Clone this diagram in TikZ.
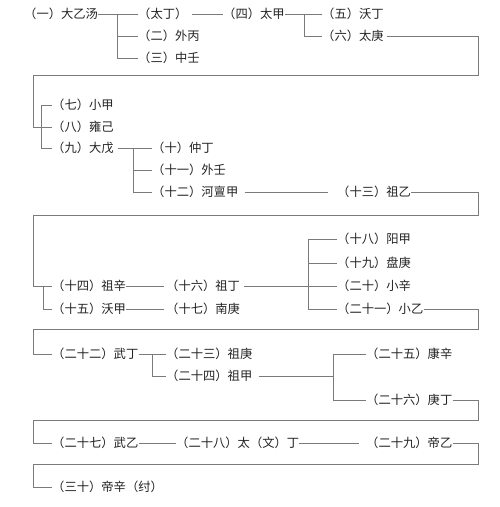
\documentclass[tikz,border=0pt]{standalone}
\usepackage{fontspec}
\newfontfamily\cjk{Noto Sans CJK SC}
\definecolor{linegray}{HTML}{7A7A7A}
\definecolor{textgray}{HTML}{222222}

\begin{document}
\begin{tikzpicture}[x=1pt,y=-1pt]
        \tikzstyle{king}=[anchor=west,inner xsep=0pt,inner ysep=1pt,text=textgray,
        font=\cjk\fontsize{12.3}{14}\selectfont] \tikzstyle{every node}=[king]
        \tikzstyle{link}=[draw=linegray,line width=0.8pt]
        \useasboundingbox (0,0) rectangle (500,507);
        % first generations
        \node (k1) at (24,14) {（一）大乙汤};
        \node (kt) at (138,14) {（太丁）};
        \node (k2) at (138,36) {（二）外丙};
        \node (k3) at (138,58) {（三）中壬};
        \node (k4) at (223,14) {（四）太甲};
        \node (k5) at (322,14) {（五）沃丁};
        \node (k6) at (322,36) {（六）太庚};
        \node (k7) at (52,105) {（七）小甲};
        \node (k8) at (52,127) {（八）雍己};
        \node (k9) at (52,148) {（九）大戊};
        \node (k10) at (152,148) {（十）仲丁};
        \node (k11) at (152,170) {（十一）外壬};
        \node (k12) at (152,192) {（十二）河亶甲};
        \node (k13) at (337,192) {（十三）祖乙};
        \node (k14) at (52,286) {（十四）祖辛};
        \node (k15) at (52,309) {（十五）沃甲};
        \node (k16) at (166,286) {（十六）祖丁};
        \node (k17) at (166,309) {（十七）南庚};
        \node (k18) at (337,239) {（十八）阳甲};
        \node (k19) at (337,263) {（十九）盘庚};
        \node (k20) at (337,286) {（二十）小辛};
        \node (k21) at (337,309) {（二十一）小乙};
        \node (k22) at (52,354) {（二十二）武丁};
        \node (k23) at (166,354) {（二十三）祖庚};
        \node (k24) at (166,376) {（二十四）祖甲};
        \node (k25) at (366,354) {（二十五）康辛};
        \node (k26) at (366,400) {（二十六）庚丁};
        \node (k27) at (52,443) {（二十七）武乙};
        \node (k28) at (176,443) {（二十八）太（文）丁};
        \node (k29) at (366,443) {（二十九）帝乙};
        \node (k30) at (52,487) {（三十）帝辛（纣）};
        % branch points and turns
        \coordinate (b1) at (117,14);
        \coordinate (b2) at (304,14);
        \coordinate (b3) at (41,105);
        \coordinate (b4) at (133,148);
        \coordinate (b5) at (43,286);
        \coordinate (b6) at (308,239);
        \coordinate (b7) at (152,354);
        \coordinate (b8) at (333,354);
        \coordinate (e1) at (478,75);   \coordinate (w1) at (33,75);
        \coordinate (e2) at (478,215);  \coordinate (w2) at (33,215);
        \coordinate (e3) at (478,329);  \coordinate (w3) at (33,329);
        \coordinate (e4) at (478,420);  \coordinate (w4) at (33,420);
        \coordinate (e5) at (478,464);  \coordinate (w5) at (33,464);
        % connectors
        \draw[link] (k1) -- (kt);
        \draw[link] (b1) |- (k3.west) (b1 |- k2) -- (k2.west);
        \draw[link,shorten <=4pt] (kt) -- (k4);
        \draw[link] (k4) -- (k5) (b2) |- (k6.west);
        \draw[link,shorten <=3pt] (k6.east) -| (e1) -- (w1) |- (k8.west);
        \draw[link] (k7.west) -- (b3) |- (k9.west);
        \draw[link,shorten <=4pt] (k9) -- (k10);
        \draw[link] (b4) |- (k12.west) (b4 |- k11) -- (k11.west);
        \draw[link,shorten <=6pt,shorten >=9pt] (k12) -- (k13);
        \draw[link] (k13.east) -| (e2) -- (w2) |- (k14.west);
        \draw[link] (b5) |- (k15.west);
        \draw[link,shorten >=2pt] (k14) -- (k16);
        \draw[link,shorten >=2pt] (k15) -- (k17);
        \draw[link,shorten <=4pt] (k16) -- (k20);
        \draw[link] (k18.west) -- (b6) |- (k21.west) (b6 |- k19) -- (k19.west);
        \draw[link] (k21.east) -| (e3) -- (w3) |- (k22.west);
        \draw[link] (k22) -- (k23) (b7) |- (k24.west);
        \draw[link,shorten <=6pt] (k24.east) -- (k24.east -| b8);
        \draw[link] (k25.west) -- (b8) |- (k26.west);
        \draw[link] (k26.east) -| (e4) -- (w4) |- (k27.west);
        \draw[link] (k27) -- (k28);
        \draw[link,shorten >=7pt] (k28) -- (k29);
        \draw[link] (k29.east) -| (e5) -- (w5) |- (k30.west);
      \end{tikzpicture}
\end{document}
